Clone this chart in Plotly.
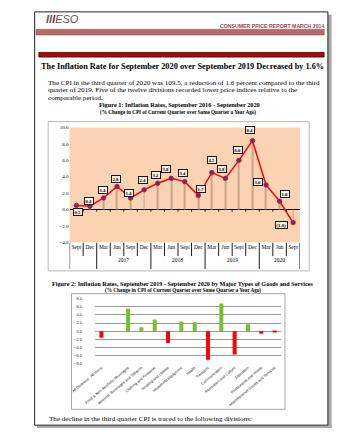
import plotly.graph_objects as go

W, H = 340, 441


def X(px):
    return px / W


def Y(py):
    return 1 - py / H


SERIF = "Liberation Serif"
SANS = "Liberation Sans"

# ---------------- data: Figure 1 ----------------
quarters = ["Sept", "Dec", "Mar", "Jun", "Sept", "Dec", "Mar", "Jun", "Sept",
            "Dec", "Mar", "Jun", "Sept", "Dec", "Mar", "Jun", "Sept"]
years = ["2016", "2016", "2017", "2017", "2017", "2017", "2018", "2018", "2018",
         "2018", "2019", "2019", "2019", "2019", "2020", "2020", "2020"]
year_labels = ["", "2017", "2018", "2019", "2020"]
rates = [0.5, 0.4, 1.4, 2.8, 1.4, 2.4, 3.2, 3.8, 3.4, 1.7, 4.5, 3.8, 6.0, 8.4, 3.0, 1.0, -1.6]
# pixel offsets of the data-label boxes (x, y-up)
label_shift = [(2, -7), (-1, 5), (0, 8), (-1, 8), (-1.5, 5), (-1, 10), (-2, 8.5), (-5, 9),
               (-1.5, 9), (3, 7), (0, 13), (-3.5, 9), (-1, 10), (-2, 11), (-8.5, 2.5),
               (5.5, 7), (-11.5, -2)]

# ---------------- data: Figure 2 ----------------
divisions = ["All Divisions - All Items", "Food & Non-Alcoholic Beverages",
             "Alcoholic Beverages and Tobacco", "Clothing and Footwear",
             "Housing and Utilities", "Household Equipment", "Health", "Transport",
             "Communication", "Recreation and Culture", "Education",
             "Restaurants and Hotels", "Miscellaneous Goods and Services"]
div_rates = [-1.6, 5.5, 1.0, 2.9, -2.9, 2.4, 2.2, -7.0, 6.8, -5.7, 1.7, -0.6, -0.2]

idx = list(range(len(rates)))

fig = go.Figure()

# drop lines
fig.add_trace(go.Bar(x=idx, y=rates, width=0.07, marker=dict(color="#c9a585", line=dict(width=0)),
                     xaxis="x", yaxis="y", hoverinfo="skip"))
# line
fig.add_trace(go.Scatter(x=idx, y=rates, mode="lines+markers",
                         line=dict(color="#ff0000", width=1.5),
                         marker=dict(size=4.5, color="#3c3c9c", line=dict(color="#ff0000", width=0.8)),
                         xaxis="x", yaxis="y", hoverinfo="skip"))

# figure 2 bars (blank gap category after "All Divisions")
cats2 = [divisions[0], " "] + divisions[1:]
vals2 = [div_rates[0], None] + div_rates[1:]
cols2 = ["#ff0000" if (v is not None and v < 0) else "#7cbf2a" for v in vals2]
fig.add_trace(go.Bar(x=cats2, y=vals2, width=0.3, marker=dict(color=cols2, line=dict(width=0)),
                     xaxis="x2", yaxis="y2", hoverinfo="skip"))

shapes = []
# page shadow and border
shapes.append(dict(type="rect", xref="paper", yref="paper", x0=X(327), x1=X(331), y0=Y(431), y1=Y(13),
                   fillcolor="#a8a8a8", line=dict(width=0), layer="below"))
shapes.append(dict(type="rect", xref="paper", yref="paper", x0=X(15), x1=X(331), y0=Y(431), y1=Y(428),
                   fillcolor="#a8a8a8", line=dict(width=0), layer="below"))
shapes.append(dict(type="rect", xref="paper", yref="paper", x0=X(12.5), x1=X(327), y0=Y(428), y1=Y(10),
                   fillcolor="white", line=dict(color="#222222", width=1), layer="below"))
# header bars
shapes.append(dict(type="rect", xref="paper", yref="paper", x0=X(14), x1=X(323), y0=Y(33.3), y1=Y(27.7),
                   fillcolor="#b9686d", line=dict(color="#8a4545", width=0.6), layer="below"))
shapes.append(dict(type="rect", xref="paper", yref="paper", x0=X(17), x1=X(323), y0=Y(55.7), y1=Y(51),
                   fillcolor="#c00000", line=dict(color="#111111", width=0.8), layer="below"))
# chart boxes
shapes.append(dict(type="rect", xref="paper", yref="paper", x0=X(27), x1=X(307), y0=Y(272), y1=Y(121),
                   fillcolor="white", line=dict(color="#b8b8b8", width=1), layer="below"))
shapes.append(dict(type="rect", xref="paper", yref="paper", x0=X(52), x1=X(281), y0=Y(412), y1=Y(295),
                   fillcolor="white", line=dict(color="#a8a8a8", width=1), layer="below"))
# peach plot area
shapes.append(dict(type="rect", xref="x domain", yref="y domain", x0=0, x1=1, y0=0, y1=1,
                   fillcolor="#fbd3b3", line=dict(width=0), layer="below"))
# category separators and zero-line ticks
for i in range(len(quarters) + 1):
    b = i - 0.5
    group_edge = i == 0 or i == len(quarters) or years[i] != years[i - 1]
    shapes.append(dict(type="line", xref="x", yref="paper", x0=b, x1=b,
                       y0=Y(270 if group_edge else 257), y1=Y(243.5),
                       line=dict(color="black", width=0.9)))
    if 0 < i < len(quarters):
        shapes.append(dict(type="line", xref="x", yref="y", x0=b, x1=b, y0=0, y1=-0.28,
                           line=dict(color="black", width=0.8)))

annotations = []
# header
annotations.append(dict(xref="paper", yref="paper", x=X(22), y=Y(17), xanchor="left", yanchor="middle",
                        showarrow=False,
                        text="<b><i>ll<span style='color:#c00000'>l</span></i></b><i>ESO</i>",
                        font=dict(family=SANS, size=11, color="#555555")))
annotations.append(dict(xref="paper", yref="paper", x=X(325), y=Y(24.3), xanchor="right", yanchor="middle",
                        showarrow=False, text="<b>CONSUMER PRICE REPORT MARCH 2014</b>",
                        font=dict(family=SANS, size=5.2, color="#b03a48")))
# title
annotations.append(dict(xref="paper", yref="paper", x=X(171), y=Y(65), xanchor="center", yanchor="middle",
                        showarrow=False,
                        text="<b>The Inflation Rate for September 2020 over September 2019 Decreased by 1.6%</b>",
                        font=dict(family=SERIF, size=8.3, color="black")))
para = ["The CPI in the third quarter of 2020 was 109.5, a reduction of 1.6 percent compared to the third",
        "quarter of 2019. Five of the twelve divisions recorded lower price indices relative to the",
        "comparable period."]
for k, line in enumerate(para):
    annotations.append(dict(xref="paper", yref="paper", x=X(25), y=Y(81.7 + 7.5 * k), xanchor="left",
                            yanchor="middle", showarrow=False, text="<b>" + line + "</b>" if False else line,
                            font=dict(family=SERIF, size=7.1, color="black")))
annotations.append(dict(xref="paper", yref="paper", x=X(168), y=Y(103.5), xanchor="center", yanchor="middle",
                        showarrow=False, text="<b>Figure 1: Inflation Rates, September 2016 - September 2020</b>",
                        font=dict(family=SERIF, size=6.3, color="black")))
annotations.append(dict(xref="paper", yref="paper", x=X(166), y=Y(111.5), xanchor="center", yanchor="middle",
                        showarrow=False,
                        text="<b>(% Change in CPI of Current Quarter over Same Quarter a Year Ago)</b>",
                        font=dict(family=SERIF, size=5.2, color="black")))
annotations.append(dict(xref="paper", yref="paper", x=X(171), y=Y(285), xanchor="center", yanchor="middle",
                        showarrow=False,
                        text="<b>Figure 2: Inflation Rates, September 2019 - September 2020 by Major Types of Goods and Services</b>",
                        font=dict(family=SERIF, size=6.2, color="black")))
annotations.append(dict(xref="paper", yref="paper", x=X(172), y=Y(291.7), xanchor="center", yanchor="middle",
                        showarrow=False,
                        text="<b>(% Change in CPI of Current Quarter over Same Quarter a Year Ago)</b>",
                        font=dict(family=SERIF, size=5.2, color="black")))
annotations.append(dict(xref="paper", yref="paper", x=X(26), y=Y(421.5), xanchor="left", yanchor="middle",
                        showarrow=False,
                        text="The decline in the third quarter CPI is traced to the following divisions:",
                        font=dict(family=SERIF, size=7.1, color="black")))
# year labels
groups = []
for i, yv in enumerate(years):
    if not groups or groups[-1][0] != yv:
        groups.append([yv, []])
    groups[-1][1].append(i)
for (yv, members), lab in zip(groups, year_labels):
    if lab:
        annotations.append(dict(xref="x", yref="paper", x=sum(members) / len(members), y=Y(261),
                                xanchor="center", yanchor="middle", showarrow=False, text=lab,
                                font=dict(family=SERIF, size=5.5, color="black")))
# data labels
for i, (v, (dx, dy)) in enumerate(zip(rates, label_shift)):
    txt = f"{v:.1f}" if v >= 0 else f"({abs(v):.1f})"
    annotations.append(dict(xref="x", yref="y", x=i, y=v, xshift=dx, yshift=dy, showarrow=False,
                            text="<b>" + txt + "</b>", bgcolor="#fdf1e4", bordercolor="black",
                            borderwidth=0.9, borderpad=0.6,
                            font=dict(family=SERIF, size=4.8, color="black")))

fig.update_layout(
    width=W, height=H, autosize=False,
    margin=dict(l=0, r=0, t=0, b=0),
    paper_bgcolor="white", plot_bgcolor="rgba(0,0,0,0)",
    showlegend=False, barmode="overlay",
    shapes=shapes, annotations=annotations,
    xaxis=dict(domain=[X(50), X(297)], range=[-0.5, len(rates) - 0.5], anchor="y",
               tickmode="array", tickvals=idx, ticktext=quarters, ticks="",
               showgrid=False, zeroline=False, showline=False,
               tickfont=dict(family=SERIF, size=5.5, color="black"), fixedrange=True),
    yaxis=dict(domain=[Y(243), Y(127)], range=[-4, 10], dtick=2, tick0=0, tickformat=".1f",
               anchor="x", showgrid=False, zeroline=True, zerolinecolor="black", zerolinewidth=1,
               showline=False, ticks="", tickfont=dict(family=SERIF, size=5, color="black"),
               fixedrange=True),
    xaxis2=dict(domain=[X(77), X(277)], anchor="y2", type="category", tickangle=-40, ticks="",
                showgrid=False, zeroline=False, showline=False,
                tickfont=dict(family=SANS, size=3.8, color="#222222"), fixedrange=True),
    yaxis2=dict(domain=[Y(366), Y(300)], range=[-8, 8], dtick=2, tick0=0, tickformat=".1f",
                anchor="x2", showgrid=True, gridcolor="#9a9a9a", gridwidth=0.8,
                zeroline=True, zerolinecolor="#9a9a9a", zerolinewidth=0.8, showline=False,
                ticks="", ticklabelstandoff=12,
                tickfont=dict(family=SANS, size=3.8, color="#222222"), fixedrange=True),
)

fig.write_html("out.html", config={"displayModeBar": False})
